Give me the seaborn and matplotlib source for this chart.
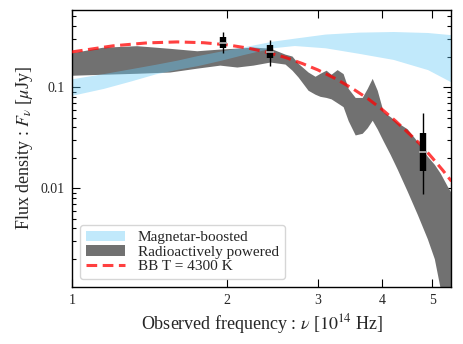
import numpy as np
import pandas as pd
import matplotlib
matplotlib.use("Agg")
import matplotlib.pyplot as plt
import seaborn as sns
from matplotlib.ticker import FixedLocator, NullLocator, FuncFormatter, LogLocator

# Black body curve
nu_bb = [1.0, 1.2, 1.4, 1.6, 1.8, 2.0, 2.2, 2.4, 2.6, 2.8, 3.0, 3.25, 3.5, 3.75,
         4.0, 4.25, 4.5, 4.75, 5.0, 5.25, 5.45]
f_bb = [0.223, 0.256, 0.274, 0.280, 0.275, 0.262, 0.243, 0.220, 0.196, 0.171, 0.148,
        0.121, 0.097, 0.077, 0.060, 0.046, 0.035, 0.027, 0.020, 0.0149, 0.0117]

# Magnetar-boosted band
nu_mag = [1.0, 1.15, 1.3, 1.45, 1.6, 1.75, 1.95, 2.15, 2.45, 2.7, 3.1, 3.6, 4.2, 4.9, 5.45]
mag_lo = [0.083, 0.097, 0.115, 0.135, 0.150, 0.163, 0.185, 0.21, 0.245, 0.258, 0.245,
          0.216, 0.188, 0.149, 0.112]
mag_hi = [0.121, 0.136, 0.152, 0.168, 0.185, 0.205, 0.228, 0.25, 0.285, 0.305, 0.335,
          0.35, 0.355, 0.347, 0.33]

# Radioactively powered band
nu_rad = [1.0, 1.146, 1.335, 1.548, 1.747, 1.936, 2.089, 2.245, 2.423, 2.591, 2.673,
          2.746, 2.872, 2.963, 3.03, 3.113, 3.183, 3.27, 3.359, 3.436, 3.545, 3.658,
          3.741, 3.825, 3.912, 4.018, 4.146, 4.278, 4.474, 4.679, 4.893, 5.049, 5.187,
          5.353, 5.474]
rad_hi = [0.219, 0.248, 0.257, 0.242, 0.229, 0.238, 0.243, 0.249, 0.243, 0.212, 0.203,
          0.172, 0.141, 0.128, 0.137, 0.147, 0.134, 0.149, 0.136, 0.097, 0.079, 0.079,
          0.097, 0.122, 0.093, 0.057, 0.051, 0.0447, 0.0386, 0.029, 0.0207, 0.0172,
          0.014, 0.0104, 0.0086]
rad_lo = [0.131, 0.134, 0.137, 0.141, 0.154, 0.165, 0.158, 0.165, 0.177, 0.169, 0.147,
          0.126, 0.093, 0.085, 0.081, 0.079, 0.0765, 0.070, 0.064, 0.0465, 0.0336,
          0.0349, 0.0396, 0.047, 0.0385, 0.0293, 0.0215, 0.0154, 0.0093, 0.0055,
          0.00316, 0.002, 0.001, 0.0007, 0.0007]

# Observed photometry
obs_nu = [1.963, 2.422, 4.80]
obs_box_lo = [0.242, 0.192, 0.0147]
obs_box_hi = [0.316, 0.261, 0.0352]
obs_mid = [0.275, 0.224, 0.0228]
obs_err_lo = [0.216, 0.162, 0.00865]
obs_err_hi = [0.355, 0.293, 0.0558]

sns.set_style("ticks")
plt.rcParams["font.family"] = ["Liberation Serif", "DejaVu Serif"]
plt.rcParams["mathtext.fontset"] = "stix"

fig = plt.figure(figsize=(4.63, 3.44), dpi=100)
ax = fig.add_axes([0.1555, 0.1657, 0.8195, 0.8053])

ax.fill_between(nu_rad, rad_lo, rad_hi, color="#717171", lw=0, zorder=1,
                label="Radioactively powered")
ax.fill_between(nu_mag, mag_lo, mag_hi, color="#64c8f5", alpha=0.4, lw=0, zorder=2,
                label="Magnetar-boosted")

bb = pd.DataFrame({"nu": nu_bb, "f": f_bb})
sns.lineplot(data=bb, x="nu", y="f", ax=ax, color="red", alpha=0.75, lw=2.2,
             linestyle=(0, (3.5, 1.8)), label="BB T = 4300 K", zorder=3)

# boxes with whiskers
ax.vlines(obs_nu, obs_err_lo, obs_err_hi, color="black", lw=1.0, zorder=4)
ax.vlines(obs_nu, obs_box_lo, obs_box_hi, color="black", lw=4.6, zorder=5)
ax.scatter(obs_nu, obs_mid, marker="_", s=30, color="#aaaaaa", linewidths=1.3, zorder=6)

ax.set_xscale("log")
ax.set_yscale("log")
ax.set_xlim(1.0, 5.45)
ax.set_ylim(1.05e-3, 0.58)

ax.xaxis.set_major_locator(FixedLocator([1, 2, 3, 4, 5]))
ax.xaxis.set_minor_locator(NullLocator())
ax.xaxis.set_major_formatter(FuncFormatter(lambda v, p: "%d" % round(v)))
ax.yaxis.set_major_locator(LogLocator(base=10))
ax.yaxis.set_minor_locator(LogLocator(base=10, subs=np.arange(2, 10)))
ax.yaxis.set_major_formatter(FuncFormatter(lambda v, p: "%g" % v))

ax.tick_params(which="both", direction="in", top=True, right=True, labelsize=10,
               width=0.8, color="black")
ax.tick_params(which="major", length=6, pad=5)
ax.tick_params(which="minor", length=3)
for s in ax.spines.values():
    s.set_linewidth(1.0)
    s.set_color("black")

ax.set_xlabel(r"Observed frequency : $\nu$ [$10^{14}$ Hz]", fontsize=13, labelpad=4)
ax.set_ylabel(r"Flux density : $F_\nu$ [$\mu$Jy]", fontsize=13, labelpad=4)

h, l = ax.get_legend_handles_labels()
order = [l.index("Magnetar-boosted"), l.index("Radioactively powered"), l.index("BB T = 4300 K")]
ax.legend([h[i] for i in order], [l[i] for i in order], loc="lower left", fontsize=11,
          labelspacing=0.05, handlelength=2.6, borderpad=0.4, frameon=True,
          edgecolor="#cccccc")

fig.savefig("out.png", dpi=100)
